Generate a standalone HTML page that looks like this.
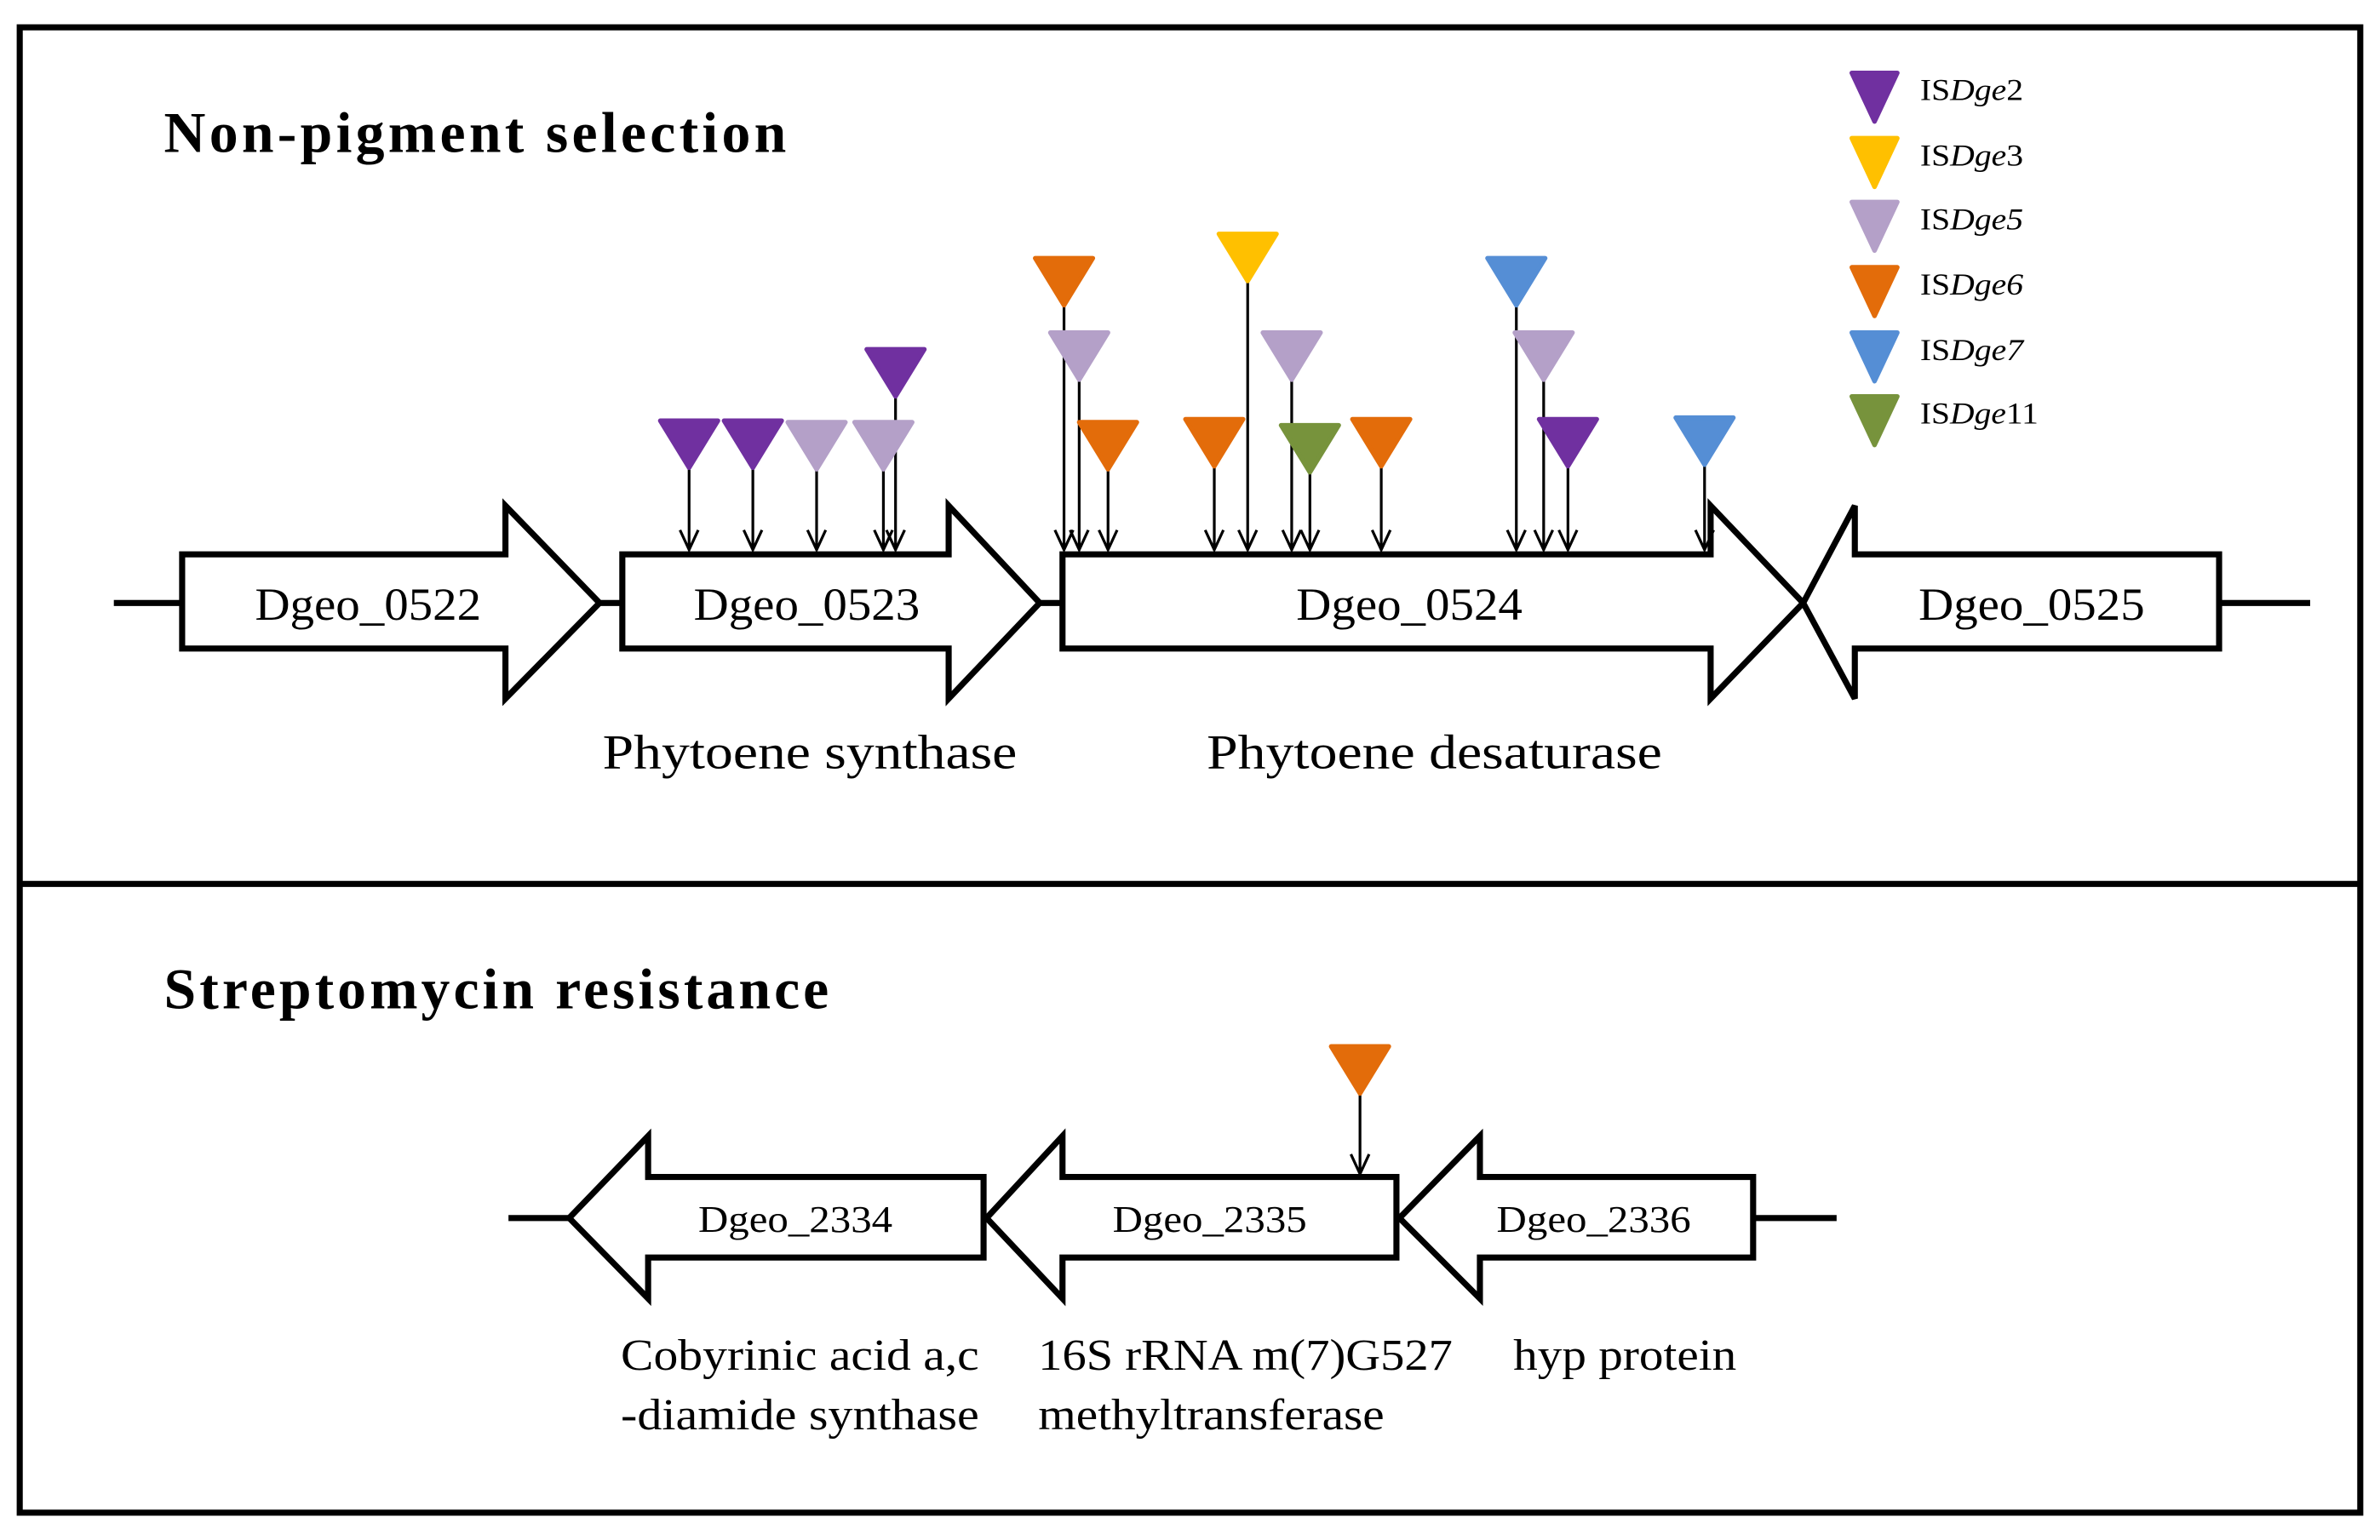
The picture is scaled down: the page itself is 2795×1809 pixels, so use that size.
<!DOCTYPE html>
<html><head><meta charset="utf-8"><style>html,body{margin:0;padding:0;background:#fff}svg{display:block}</style></head><body>
<svg width="2795" height="1809" viewBox="0 0 1568 1014" preserveAspectRatio="none" xmlns="http://www.w3.org/2000/svg" font-family="Liberation Serif, serif">
<rect x="13" y="18" width="1542" height="978" fill="#fff" stroke="#000" stroke-width="4"/>
<line x1="13" y1="582" x2="1555" y2="582" stroke="#000" stroke-width="4"/>
<text x="108" y="100" font-size="38" font-weight="bold" textLength="410" lengthAdjust="spacing">Non-pigment  selection</text>
<text x="108" y="664" font-size="38" font-weight="bold" textLength="438" lengthAdjust="spacing">Streptomycin  resistance</text>
<g stroke="#000" stroke-width="4" fill="#fff">
<line x1="75" y1="397" x2="1522" y2="397"/>
<polygon points="120,365 333,365 333,333 395,397 333,460 333,427 120,427"/>
<polygon points="410,365 625,365 625,333 685,397 625,460 625,427 410,427"/>
<polygon points="700,365 1127,365 1127,333 1188,397 1127,460 1127,427 700,427"/>
<polygon points="1462,365 1222,365 1222,333 1188,397 1222,460 1222,427 1462,427"/>
<line x1="335" y1="802" x2="1210" y2="802"/>
<polygon points="648,775 427,775 427,748 375,802 427,855 427,828 648,828"/>
<polygon points="920,775 700,775 700,748 650,802 700,855 700,828 920,828"/>
<polygon points="1155,775 975,775 975,748 922,802 975,855 975,828 1155,828"/>
</g>
<g font-size="30">
<text x="168" y="408" textLength="149" lengthAdjust="spacingAndGlyphs">Dgeo_0522</text>
<text x="457" y="408" textLength="149" lengthAdjust="spacingAndGlyphs">Dgeo_0523</text>
<text x="854" y="408" textLength="149" lengthAdjust="spacingAndGlyphs">Dgeo_0524</text>
<text x="1264" y="408" textLength="149" lengthAdjust="spacingAndGlyphs">Dgeo_0525</text>
<text x="397" y="506" font-size="32" textLength="273" lengthAdjust="spacingAndGlyphs">Phytoene  synthase</text>
<text x="795" y="506" font-size="32" textLength="300" lengthAdjust="spacingAndGlyphs">Phytoene  desaturase</text>
</g>
<g font-size="25">
<text x="460" y="811" textLength="128" lengthAdjust="spacingAndGlyphs">Dgeo_2334</text>
<text x="733" y="811" textLength="128" lengthAdjust="spacingAndGlyphs">Dgeo_2335</text>
<text x="986" y="811" textLength="128" lengthAdjust="spacingAndGlyphs">Dgeo_2336</text>
</g>
<g font-size="29">
<text x="409" y="902" textLength="236" lengthAdjust="spacingAndGlyphs">Cobyrinic acid a,c</text>
<text x="409" y="941" textLength="236" lengthAdjust="spacingAndGlyphs">-diamide synthase</text>
<text x="684" y="902" textLength="273" lengthAdjust="spacingAndGlyphs">16S rRNA m(7)G527</text>
<text x="684" y="941" textLength="228" lengthAdjust="spacingAndGlyphs">methyltransferase</text>
<text x="997" y="902" textLength="147" lengthAdjust="spacingAndGlyphs">hyp protein</text>
</g>
<g stroke="#000" stroke-width="1.8" fill="none">
<path d="M454,305V362M448,349L454,362L460,349"/>
<path d="M496,305V362M490,349L496,362L502,349"/>
<path d="M538,306V362M532,349L538,362L544,349"/>
<path d="M582,306V362M576,349L582,362L588,349"/>
<path d="M590,258V362M584,349L590,362L596,349"/>
<path d="M701,198V362M695,349L701,362L707,349"/>
<path d="M711,247V362M705,349L711,362L717,349"/>
<path d="M730,306V362M724,349L730,362L736,349"/>
<path d="M800,304V362M794,349L800,362L806,349"/>
<path d="M822,182V362M816,349L822,362L828,349"/>
<path d="M851,247V362M845,349L851,362L857,349"/>
<path d="M863,308V362M857,349L863,362L869,349"/>
<path d="M910,304V362M904,349L910,362L916,349"/>
<path d="M999,198V362M993,349L999,362L1005,349"/>
<path d="M1017,247V362M1011,349L1017,362L1023,349"/>
<path d="M1033,304V362M1027,349L1033,362L1039,349"/>
<path d="M1123,303V362M1117,349L1123,362L1129,349"/>
<path d="M896,717V773M890,760L896,773L902,760"/>
</g>
<g stroke-linejoin="round" stroke-width="3">
<polygon points="435,277 473,277 454,308" fill="#7030a0" stroke="#7030a0"/>
<polygon points="477,277 515,277 496,308" fill="#7030a0" stroke="#7030a0"/>
<polygon points="519,278 557,278 538,309" fill="#b4a0c8" stroke="#b4a0c8"/>
<polygon points="563,278 601,278 582,309" fill="#b4a0c8" stroke="#b4a0c8"/>
<polygon points="571,230 609,230 590,261" fill="#7030a0" stroke="#7030a0"/>
<polygon points="682,170 720,170 701,201" fill="#e36c0a" stroke="#e36c0a"/>
<polygon points="692,219 730,219 711,250" fill="#b4a0c8" stroke="#b4a0c8"/>
<polygon points="711,278 749,278 730,309" fill="#e36c0a" stroke="#e36c0a"/>
<polygon points="781,276 819,276 800,307" fill="#e36c0a" stroke="#e36c0a"/>
<polygon points="803,154 841,154 822,185" fill="#ffc000" stroke="#ffc000"/>
<polygon points="832,219 870,219 851,250" fill="#b4a0c8" stroke="#b4a0c8"/>
<polygon points="844,280 882,280 863,311" fill="#77933c" stroke="#77933c"/>
<polygon points="891,276 929,276 910,307" fill="#e36c0a" stroke="#e36c0a"/>
<polygon points="980,170 1018,170 999,201" fill="#558ed5" stroke="#558ed5"/>
<polygon points="998,219 1036,219 1017,250" fill="#b4a0c8" stroke="#b4a0c8"/>
<polygon points="1014,276 1052,276 1033,307" fill="#7030a0" stroke="#7030a0"/>
<polygon points="1104,275 1142,275 1123,306" fill="#558ed5" stroke="#558ed5"/>
<polygon points="877,689 915,689 896,720" fill="#e36c0a" stroke="#e36c0a"/>
<polygon points="1220,48 1250,48 1235,80" fill="#7030a0" stroke="#7030a0"/>
<polygon points="1220,91 1250,91 1235,123" fill="#ffc000" stroke="#ffc000"/>
<polygon points="1220,133 1250,133 1235,165" fill="#b4a0c8" stroke="#b4a0c8"/>
<polygon points="1220,176 1250,176 1235,208" fill="#e36c0a" stroke="#e36c0a"/>
<polygon points="1220,219 1250,219 1235,251" fill="#558ed5" stroke="#558ed5"/>
<polygon points="1220,261 1250,261 1235,293" fill="#77933c" stroke="#77933c"/>
</g>
<g font-size="20">
<text x="1265" y="66" textLength="68" lengthAdjust="spacingAndGlyphs">IS<tspan font-style="italic">Dge</tspan>2</text>
<text x="1265" y="109" textLength="68" lengthAdjust="spacingAndGlyphs">IS<tspan font-style="italic">Dge</tspan>3</text>
<text x="1265" y="151" textLength="68" lengthAdjust="spacingAndGlyphs">IS<tspan font-style="italic">Dge5</tspan></text>
<text x="1265" y="194" textLength="68" lengthAdjust="spacingAndGlyphs">IS<tspan font-style="italic">Dge6</tspan></text>
<text x="1265" y="237" textLength="68" lengthAdjust="spacingAndGlyphs">IS<tspan font-style="italic">Dge7</tspan></text>
<text x="1265" y="279" textLength="78" lengthAdjust="spacingAndGlyphs">IS<tspan font-style="italic">Dge</tspan>11</text>
</g>
</svg>
</body></html>
